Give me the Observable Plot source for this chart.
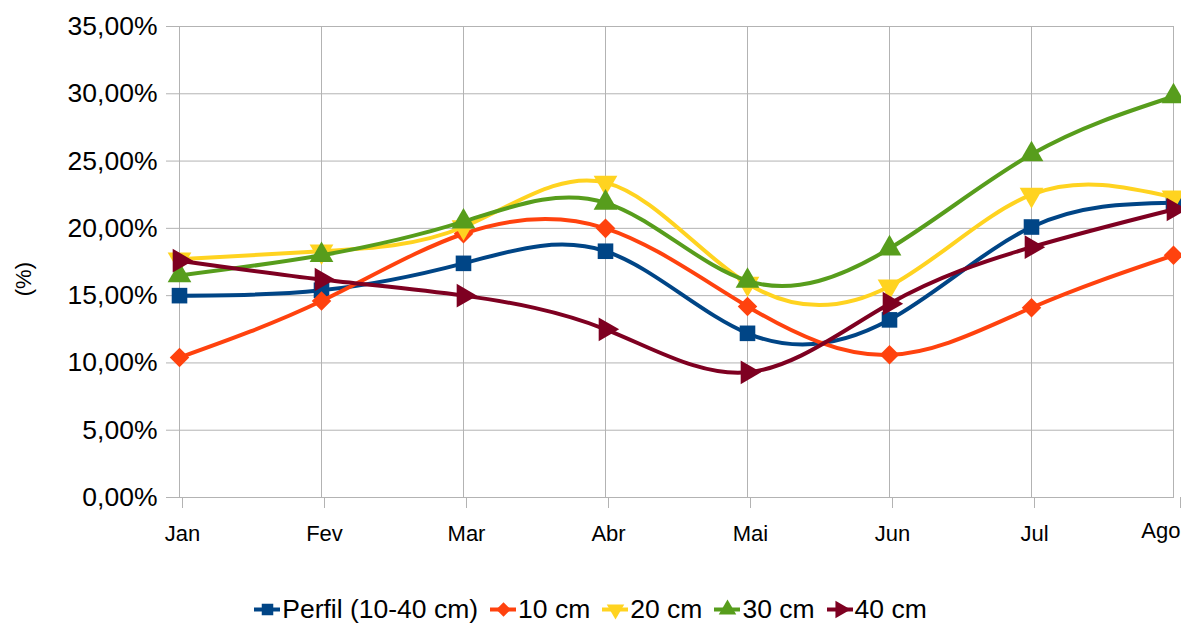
<!DOCTYPE html>
<html>
<head>
<meta charset="utf-8">
<script src="https://cdn.jsdelivr.net/npm/d3@7"></script>
<script src="https://cdn.jsdelivr.net/npm/@observablehq/plot@0.6"></script>
<style>
  html, body { margin: 0; padding: 0; background: #fff; }
  body { width: 1181px; height: 624px; overflow: hidden; font-family: "Liberation Sans", Arial, sans-serif; }
  #legend { height: 66px; display: flex; justify-content: center; align-items: flex-end; gap: 12px; font-size: 26.5px; color: #000; line-height: 30px; }
  .item { display: flex; align-items: center; }
  .item svg { margin-right: 2px; }
</style>
</head>
<body>
<div id="chart"></div>
<div id="legend"></div>
<script>
const months = ["Jan", "Fev", "Mar", "Abr", "Mai", "Jun", "Jul", "Ago"];
const seriesNames = ["Perfil (10-40 cm)", "10 cm", "20 cm", "30 cm", "40 cm"];
const colors = ["#004586", "#ff420e", "#ffd320", "#579d1c", "#7e0021"];
const symbols = ["square", "diamond2", "triangle", "triangle", "triangle"];
const rotations = [0, 0, 180, 0, 90];
const perfil = [15.0, 15.4, 17.4, 18.3, 12.2, 13.2, 20.1, 21.9];
const cm10 = [10.4, 14.6, 19.6, 20.0, 14.2, 10.6, 14.1, 18.0];
const cm20 = [17.7, 18.3, 20.1, 23.4, 15.9, 15.7, 22.5, 22.3];
const cm30 = [16.5, 18.0, 20.5, 21.9, 16.1, 18.5, 25.5, 29.8];
const cm40 = [17.6, 16.2, 15.0, 12.5, 9.3, 14.4, 18.6, 21.4];
const yTicks = [0, 5, 10, 15, 20, 25, 30, 35];

const allValues = [perfil, cm10, cm20, cm30, cm40];
const fmt = v => v.toFixed(2).replace(".", ",") + "%";
const gray = "#b3b3b3";

const marks = [
  Plot.gridY(yTicks, {stroke: gray, strokeOpacity: 1}),
  Plot.gridX(months, {stroke: gray, strokeOpacity: 1}),
  Plot.axisY(yTicks, {tickSize: 12, tickPadding: 9, stroke: gray, tickFormat: fmt, fontSize: 26.5, fill: "#000", label: null}),
  Plot.axisX(months.slice(0, 7), {tickSize: 11, tickPadding: 17, stroke: gray, fontSize: 22, fill: "#000", label: null, dx: 3}),
  Plot.axisX(["Ago"], {tickSize: 11, tickPadding: 14, stroke: gray, fontSize: 22, fill: "#000", label: null, textAnchor: "end", dx: 7}),
  Plot.text(["(%)"], {frameAnchor: "left", dx: -155, rotate: -90, textAnchor: "end", fontSize: 22, fill: "#000"})
];
allValues.forEach((vals, i) => {
  const data = months.map((m, j) => ({month: m, value: vals[j]}));
  marks.push(Plot.line(data, {x: "month", y: "value", stroke: colors[i], strokeWidth: 4, curve: "natural"}));
  marks.push(Plot.dot(data, {x: "month", y: "value", fill: colors[i], symbol: () => symbols[i], r: 8.8, rotate: rotations[i]}));
});

const chart = Plot.plot({
  width: 1181,
  height: 558,
  marginTop: 26,
  marginBottom: 61,
  marginLeft: 178,
  marginRight: 7,
  style: {fontFamily: "'Liberation Sans', Arial, sans-serif", background: "#fff", overflow: "visible"},
  x: {type: "point", domain: months, padding: 0},
  y: {domain: [0, 35]},
  symbol: {type: "identity"},
  marks
});
document.getElementById("chart").appendChild(chart);

const legend = document.getElementById("legend");
seriesNames.forEach((name, i) => {
  const item = document.createElement("div");
  item.className = "item";
  const sw = Plot.plot({
    width: 26, height: 30, margin: 0,
    x: {domain: [0, 2], axis: null}, y: {domain: [0, 1], axis: null},
    symbol: {type: "identity"},
    style: {overflow: "visible", background: "transparent"},
    marks: [
      Plot.ruleY([0.5], {x1: 0, x2: 2, stroke: colors[i], strokeWidth: 4}),
      Plot.dot([{x: 1, y: 0.5}], {x: "x", y: "y", fill: colors[i], symbol: () => symbols[i], r: 6.5, rotate: rotations[i]})
    ]
  });
  item.appendChild(sw);
  const t = document.createElement("span");
  t.textContent = name;
  item.appendChild(t);
  legend.appendChild(item);
});
</script>
</body>
</html>
